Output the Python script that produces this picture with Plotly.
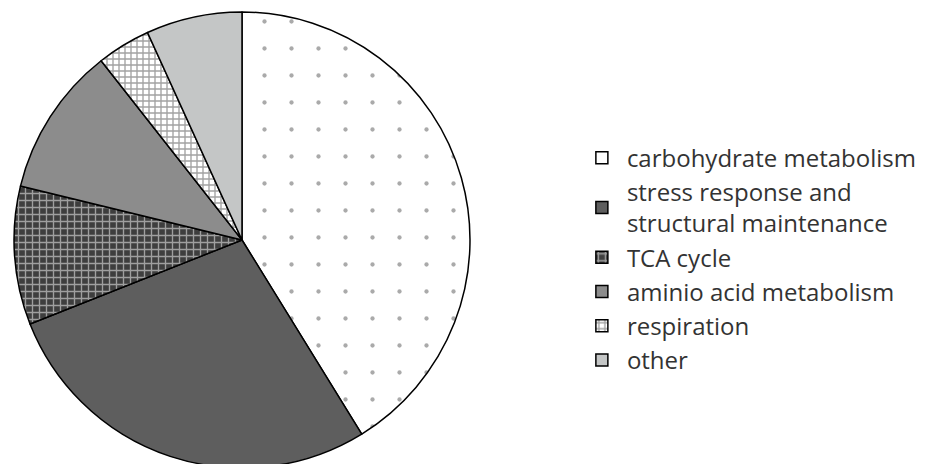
import plotly.graph_objects as go

labels = ["carbohydrate metabolism", "stress response and<br>structural maintenance",
          "TCA cycle", "aminio acid metabolism", "respiration", "other"]
values = [41.2, 27.8, 9.8, 10.6, 3.8, 6.8]
colors = ["#ffffff", "#5e5e5e", "#3e3e3e", "#8c8c8c", "#ffffff", "#c4c6c6"]
pattern_shapes = [".", "", "+", "", "+", ""]
pattern_fg = ["#555555", "#5e5e5e", "#ffffff", "#8c8c8c", "#454545", "#c4c6c6"]

fig = go.Figure(go.Pie(
    labels=labels,
    values=values,
    sort=False,
    direction="clockwise",
    rotation=0,
    textinfo="none",
    hoverinfo="label+percent",
    marker=dict(
        colors=colors,
        line=dict(color="#000000", width=1.5),
        pattern=dict(shape=pattern_shapes, fgcolor=pattern_fg, bgcolor=colors,
                     size=[27, 8, 7, 8, 6, 8], solidity=[0.02, 0.3, 0.35, 0.3, 0.4, 0.3],
                     fillmode="overlay"),
    ),
    domain=dict(x=[6/925, 462/925], y=[0, 1]),
))

fig.update_layout(
    width=925, height=464,
    margin=dict(l=0, r=0, t=0, b=0),
    paper_bgcolor="white",
    font=dict(family="Open Sans", size=24, color="#333333"),
    legend=dict(x=0.615, y=0.725, xanchor="left", yanchor="top",
                font=dict(size=24, color="#333333"), tracegroupgap=0,
                itemwidth=40),
    showlegend=True,
)

fig.write_html("out.html")
